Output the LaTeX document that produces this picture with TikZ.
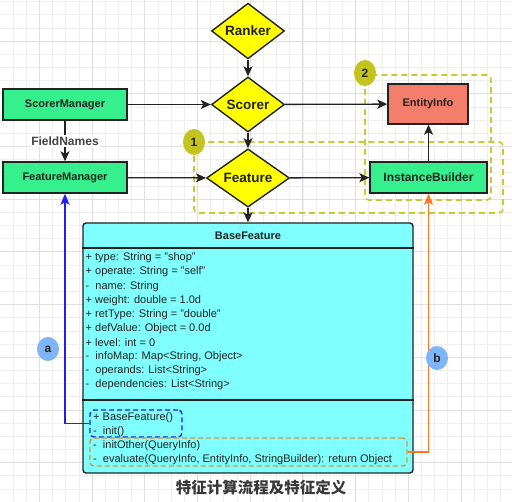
\documentclass[tikz,border=0pt]{standalone}
\usepackage{fontspec}
\setmainfont{Liberation Sans}
\newfontfamily\cjk{Noto Sans CJK SC}
\usetikzlibrary{shapes.geometric,arrows.meta}
\definecolor{gminor}{HTML}{EFEFEF}
\definecolor{gmajor}{HTML}{DFDFDF}
\definecolor{mgreen}{HTML}{36F08E}
\definecolor{myellow}{HTML}{FFFF00}
\definecolor{msalmon}{HTML}{F47E6C}
\definecolor{mcyan}{HTML}{80FFFF}
\definecolor{olivefill}{HTML}{C4C41E}
\definecolor{olivedash}{HTML}{CACA30}
\definecolor{lblue}{HTML}{7EB5F6}
\definecolor{mblue}{HTML}{1F1FF0}
\definecolor{morange}{HTML}{FF7424}
\definecolor{dorange}{HTML}{E28E38}
\definecolor{dkline}{HTML}{222222}
\definecolor{txt}{HTML}{222222}
\tikzset{
  boxbase/.style={draw=dkline, line width=1.4pt, text=txt, inner sep=0pt},
  greenbox/.style={boxbase, fill=mgreen, rectangle, font=\bfseries\fontsize{11}{11}\selectfont},
  dia/.style={boxbase, fill=myellow, diamond, font=\bfseries\fontsize{13.5}{13.5}\selectfont},
  arr/.style={draw=dkline, line width=1.3pt, -{Stealth[length=10pt,width=9pt,inset=2.5pt]}},
  grp/.style={draw=olivedash, line width=1.6pt, dash pattern=on 6pt off 4pt, rounded corners=4pt},
  numc/.style={ellipse, fill=olivefill, inner sep=0pt, minimum width=22pt, minimum height=26pt, text=txt, font=\bfseries\fontsize{12}{12}\selectfont},
  letc/.style={ellipse, fill=lblue, inner sep=0pt, minimum width=22pt, minimum height=24pt, text=txt, font=\bfseries\fontsize{12}{12}\selectfont},
  line/.style={anchor=west, inner sep=0pt, text=txt, font=\fontsize{11}{11}\selectfont},
}
\begin{document}
\begin{tikzpicture}[x=1pt,y=-1pt]
\useasboundingbox (0,0) rectangle (512,502);
\fill[white] (0,0) rectangle (512,502);
% grid
\foreach \k in {-2,...,35} \draw[gminor, line width=0.6pt] (39.3+\k*13.175,0) -- (39.3+\k*13.175,502);
\foreach \k in {-3,...,34} \draw[gminor, line width=0.6pt] (0,41+\k*13.175) -- (512,41+\k*13.175);
\foreach \m in {0,...,8} \draw[gmajor, line width=0.7pt] (39.3+\m*52.7,0) -- (39.3+\m*52.7,502);
\foreach \m in {0,...,8} \draw[gmajor, line width=0.7pt] (0,41+\m*52.7) -- (512,41+\m*52.7);

% groups
\draw[grp] (194,142) rectangle (503,213);
\draw[grp] (365,75) rectangle (491,200);

% nodes
\node[dia, minimum width=73pt, minimum height=55pt] (ranker) at (248,31) {Ranker};
\node[dia, minimum width=73pt, minimum height=55pt] (scorer) at (248,104.5) {Scorer};
\node[dia, minimum width=83pt, minimum height=54pt] (feature) at (248,178) {Feature};
\node[greenbox, minimum width=124pt, minimum height=31pt] (sm) at (65,104.5) {ScorerManager};
\node[greenbox, minimum width=124pt, minimum height=31pt] (fm) at (65,177.5) {FeatureManager};
\node[boxbase, fill=msalmon, minimum width=80pt, minimum height=40pt, font=\bfseries\fontsize{11}{11}\selectfont] (ei) at (428,104) {EntityInfo};
\node[greenbox, minimum width=117pt, minimum height=31pt, font=\bfseries\fontsize{12}{12}\selectfont] (ib) at (428.5,177.5) {InstanceBuilder};

\node[numc] (c1) at (194,142) {1};
\node[numc] (c2) at (365,73) {2};

% BaseFeature class
\node[draw=dkline, line width=1.4pt, fill=mcyan, rounded corners=3pt, minimum width=330pt, minimum height=250pt, inner sep=0pt] (bf) at (248,348) {};
\draw[dkline, line width=1.4pt] (bf.west |- 0,248) -- (bf.east |- 0,248);
\draw[dkline, line width=1.4pt] (bf.west |- 0,400) -- (bf.east |- 0,400);
\node[inner sep=0pt, text=txt, font=\bfseries\fontsize{11}{11}\selectfont] (bftitle) at (248,236) {BaseFeature};
\foreach \t [count=\i from 0] in {
  {+ type: String = "shop"},
  {+ operate: String = "self"},
  {-\ \ name: String},
  {+ weight: double = 1.0d},
  {+ retType: String = "double"},
  {+ defValue: Object = 0.0d},
  {+ level: int = 0},
  {-\ \ infoMap: Map<String, Object>},
  {-\ \ operands: List<String>},
  {-\ \ dependencies: List<String>}}
  \node[line] (attr\i) at (85.5,258+\i*14.1) {\t};
\foreach \t [count=\i from 0] in {
  {+ BaseFeature()},
  {-\ \ init()},
  {-\ \ initOther(QueryInfo)},
  {-\ \ evaluate(QueryInfo, EntityInfo, StringBuilder): return Object}}
  \node[line] (meth\i) at (93,418+\i*14) {\t};

\node[draw=mblue, line width=1.4pt, dash pattern=on 5pt off 3pt, rounded corners=4pt, minimum width=92pt, minimum height=27pt, inner sep=0pt] (brect) at (136,423.5) {};
\node[draw=dorange, line width=1.4pt, dash pattern=on 5pt off 3pt, rounded corners=4pt, minimum width=317pt, minimum height=28pt, inner sep=0pt] (orect) at (248.5,452) {};

% connectors
\draw[arr] (ranker) -- (scorer);
\draw[arr] (scorer) -- (feature);
\draw[arr] (feature) -- (bf.north);
\draw[arr] (sm) -- (scorer);
\draw[arr] (fm) -- (feature);
\draw[arr] (scorer) -- (ei);
\draw[arr] (feature) -- (ib);
\draw[arr] (ib.north) -- (ib.north |- ei.south);
\draw[arr] (sm) -- node[fill=white, inner sep=1.5pt, text=txt!85, font=\bfseries\fontsize{12}{12}\selectfont] (fn) {FieldNames} (fm);
\draw[mblue, line width=1.4pt, -{Stealth[length=11pt,width=9pt,inset=2.5pt]}] (brect.west) -| (fm.south);
\draw[morange, line width=1.4pt, -{Stealth[length=11pt,width=9pt,inset=2.5pt]}] (orect.east) -| (ib.south);

\node[letc] (la) at (48,349) {a};
\node[letc] (lb) at (437,358) {b};

\node[inner sep=0pt, text=txt!90, font=\cjk\bfseries\fontsize{15.5}{15.5}\selectfont] (cap) at (261,488) {特征计算流程及特征定义};
\end{tikzpicture}
\end{document}
